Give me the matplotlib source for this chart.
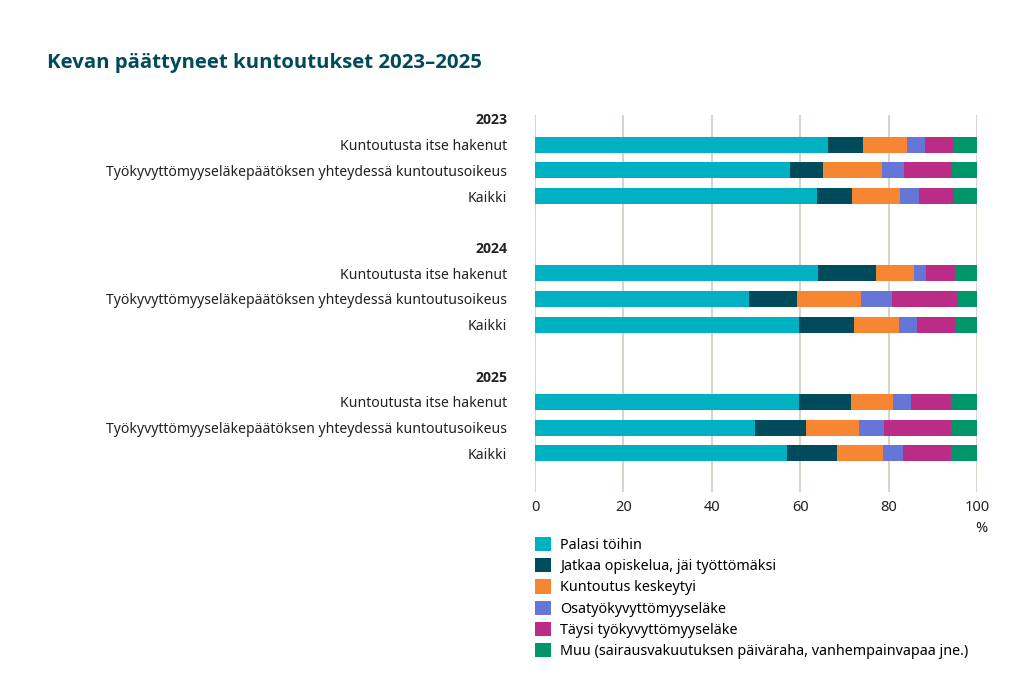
import numpy as np
import matplotlib.pyplot as plt
from matplotlib.patches import Patch

plt.rcParams['font.family'] = ['Noto Sans', 'DejaVu Sans']
BOLD = ['Open Sans', 'DejaVu Sans']

years = ['2023', '2024', '2025']
groups = ['Kuntoutusta itse hakenut',
          'Työkyvyttömyyseläkepäätöksen yhteydessä kuntoutusoikeus',
          'Kaikki']
outcomes = ['Palasi töihin',
            'Jatkaa opiskelua, jäi työttömäksi',
            'Kuntoutus keskeytyi',
            'Osatyökyvyttömyyseläke',
            'Täysi työkyvyttömyyseläke',
            'Muu (sairausvakuutuksen päiväraha, vanhempainvapaa jne.)']
colors = ['#00b1c1', '#004b5b', '#f78632', '#6675d8', '#bb2c86', '#009669']

# shares in %, one row per group, rows in order 2023, 2024, 2025
palasi = [66.4, 57.7, 63.9, 64.0, 48.5, 59.7, 59.8, 49.8, 57.0]
jatkaa = [7.9, 7.4, 7.8, 13.1, 10.7, 12.5, 11.6, 11.4, 11.3]
keskeytyi = [9.8, 13.5, 10.9, 8.6, 14.5, 10.2, 9.6, 12.2, 10.5]
osa = [4.2, 4.8, 4.2, 2.7, 7.1, 4.1, 4.0, 5.5, 4.5]
taysi = [6.3, 11.0, 7.9, 6.6, 14.8, 8.5, 9.1, 15.2, 10.8]
muu = [5.4, 5.6, 5.3, 5.0, 4.4, 5.0, 5.9, 5.9, 5.9]
series = [palasi, jatkaa, keskeytyi, osa, taysi, muu]

# slot layout: header, 3 bars, blank gap per year
ticks, labels, bar_pos = [], [], []
pos = 0
for y in years:
    ticks.append(pos)
    labels.append(y)
    pos += 1
    for g in groups:
        ticks.append(pos)
        labels.append(g)
        bar_pos.append(pos)
        pos += 1
    pos += 1
bar_pos = np.array(bar_pos)

fig = plt.figure(figsize=(10.24, 7), dpi=100)
ax = fig.add_axes([535 / 1024, 1 - 492 / 700, 442 / 1024, 377 / 700])

left = np.zeros(len(bar_pos))
for vals, c in zip(series, colors):
    vals = np.array(vals)
    ax.barh(bar_pos, vals, left=left, height=0.62, color=c, zorder=3)
    left += vals

ax.set_xlim(0, 100)
ax.set_ylim(14.5, -0.15)
ax.set_xticks([0, 20, 40, 60, 80, 100])
ax.set_yticks(ticks)
ax.set_yticklabels(labels)
for t, lab in zip(ax.get_yticklabels(), labels):
    if lab in years:
        t.set_family(BOLD)
        t.set_fontweight('bold')
        t.set_fontsize(10.4)
ax.tick_params(axis='y', length=0, pad=20, labelsize=10.1, labelcolor='#222222')
ax.tick_params(axis='x', length=0, pad=6, labelsize=10.5, labelcolor='#222222')
ax.grid(axis='x', color='#d8d3cb', linewidth=1.5, zorder=0)
for s in ax.spines.values():
    s.set_visible(False)

fig.text(981 / 1024, 1 - 528 / 700, '%', ha='center', va='center', fontsize=10.5, color='#222222')
fig.text(47 / 1024, 1 - 63 / 700, 'Kevan päättyneet kuntoutukset 2023–2025', ha='left', va='center',
         fontsize=14.7, fontweight='bold', family=BOLD, color='#004b5b')

handles = [Patch(facecolor=c, label=l) for c, l in zip(colors, outcomes)]
fig.legend(handles=handles, loc='upper left', bbox_to_anchor=(535 / 1024, 1 - 537 / 700),
           frameon=False, fontsize=10.3, handlelength=1.15, handleheight=1.15,
           labelspacing=0.37, handletextpad=0.6, borderaxespad=0, borderpad=0)

fig.savefig('out.png', dpi=100)
